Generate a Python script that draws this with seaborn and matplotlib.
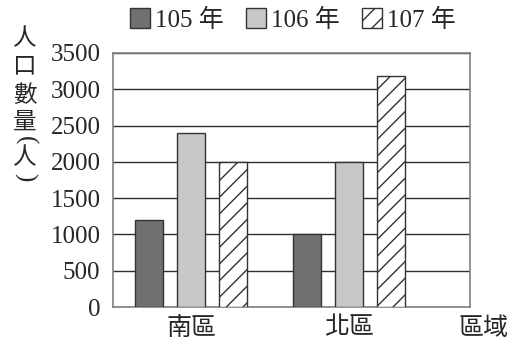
import matplotlib
matplotlib.use("Agg")
import matplotlib.pyplot as plt
import seaborn as sns
import pandas as pd
from matplotlib.patches import Patch

# Data
regions = ["南區", "北區"]
years = ["105 年", "106 年", "107 年"]
pop_105 = [1200, 1000]
pop_106 = [2400, 2000]
pop_107 = [2000, 3180]
y_ticks = [0, 500, 1000, 1500, 2000, 2500, 3000, 3500]

df = pd.DataFrame({
    "區域": regions * 3,
    "年": [years[0]] * 2 + [years[1]] * 2 + [years[2]] * 2,
    "人口": pop_105 + pop_106 + pop_107,
})

sns.set_theme(style="white")
plt.rcParams["font.family"] = ["Liberation Serif", "Noto Sans CJK TC"]
plt.rcParams["hatch.color"] = "#222222"
plt.rcParams["hatch.linewidth"] = 1.0

FS = 18
fills = ["#707070", "#c8c8c8", "#ffffff"]
edge = "#333333"

fig = plt.figure(figsize=(5.14, 3.5), dpi=100)
ax = fig.add_axes([113 / 514, 1 - 307 / 350, 357 / 514, 254 / 350])

sns.barplot(data=df, x="區域", y="人口", hue="年", hue_order=years,
            order=regions, palette=fills, width=0.8, gap=0.335,
            edgecolor=edge, linewidth=1.0, ax=ax, legend=False, zorder=3)

# hatch the 107 series
for bar in ax.containers[2]:
    bar.set_hatch("//")

ax.set_xlim(-0.494, 1.766)
ax.set_ylim(0, 3500)
ax.set_yticks(y_ticks)
ax.set_yticklabels([str(v) for v in y_ticks], fontsize=FS)
ax.tick_params(axis="y", length=0, pad=9)
ax.tick_params(axis="x", length=0, pad=7, labelsize=FS)
ax.yaxis.grid(True, color="#2e2e2e", linewidth=1.0, zorder=0)
ax.xaxis.grid(False)
ax.set_axisbelow(True)
for s in ax.spines.values():
    s.set_color("#808080")
    s.set_linewidth(1.2)

ax.set_ylabel("")
ax.set_xlabel("區域", fontsize=FS)
ax.xaxis.set_label_coords((483 - 113) / 357, -0.087)
ax.xaxis.label.set_va("center")

# vertical y-axis title, one character per line
cjk = ["Noto Sans CJK TC"]
for ch, yy in zip(["人", "口", "數", "量", "人"], [39, 66, 95, 122, 158]):
    fig.text(25 / 514, 1 - yy / 350, ch, fontsize=FS - 1, ha="center",
             va="center", family=cjk)
# parentheses turned sideways around the unit
fig.text(25 / 514, 1 - 140 / 350, "(", fontsize=FS, rotation=-90,
         ha="center", va="center", family=["Liberation Serif"])
fig.text(25 / 514, 1 - 177 / 350, ")", fontsize=FS, rotation=-90,
         ha="center", va="center", family=["Liberation Serif"])

handles = [Patch(facecolor=fills[i], edgecolor=edge, linewidth=1.0,
                 hatch="//" if i == 2 else None) for i in range(3)]
fig.legend(handles, years, loc="center", bbox_to_anchor=(293 / 514, 1 - 20 / 350),
           ncol=3, frameon=False, fontsize=FS, handlelength=0.8,
           handleheight=0.8, handletextpad=0.2, columnspacing=0.9,
           borderpad=0, borderaxespad=0)

fig.savefig("out.png", dpi=100)
